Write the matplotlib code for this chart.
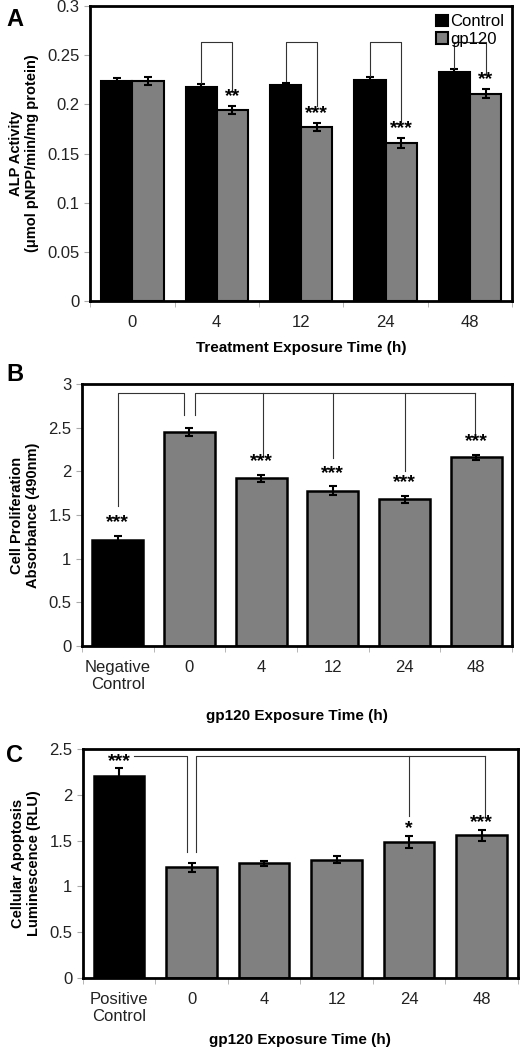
import numpy as np
import matplotlib.pyplot as plt

plt.rcParams['font.family'] = ['Liberation Sans', 'DejaVu Sans']

# Panel A data
a_times = ['0', '4', '12', '24', '48']
a_control = [0.224, 0.218, 0.220, 0.225, 0.233]
a_control_err = [0.003, 0.003, 0.002, 0.003, 0.003]
a_gp120 = [0.224, 0.194, 0.177, 0.161, 0.211]
a_gp120_err = [0.004, 0.004, 0.004, 0.005, 0.005]
a_stars = ['', '**', '***', '***', '**']

# Panel B data
b_labels = ['Negative\nControl', '0', '4', '12', '24', '48']
b_values = [1.21, 2.45, 1.92, 1.78, 1.68, 2.16]
b_err = [0.05, 0.05, 0.04, 0.05, 0.04, 0.03]
b_stars = ['***', '', '***', '***', '***', '***']

# Panel C data
c_labels = ['Positive\nControl', '0', '4', '12', '24', '48']
c_values = [2.21, 1.21, 1.25, 1.29, 1.485, 1.56]
c_err = [0.08, 0.05, 0.03, 0.04, 0.07, 0.06]
c_stars = ['***', '', '', '', '*', '***']

GRAY = '#808080'
LW = 0.8


def style_axes(ax, n):
    for s in ax.spines.values():
        s.set_linewidth(2)
        s.set_color('black')
    ax.set_xlim(-0.5, n - 0.5)
    ax.set_xticks(np.arange(n))
    ax.set_xticks(np.arange(n + 1) - 0.5, minor=True)
    ax.tick_params(axis='x', which='major', length=0, pad=10, labelsize=12, colors='#222222')
    ax.tick_params(axis='x', which='minor', length=4, color='#aaaaaa', direction='out')
    ax.tick_params(axis='y', length=4, color='#aaaaaa', labelsize=12, labelcolor='#222222')


fig = plt.figure(figsize=(5.21, 10.5), dpi=100)

# ---------- Panel A ----------
ax = fig.add_axes([0.173, 0.7133, 0.81, 0.281])
x = np.arange(len(a_times))
w = 0.37
ax.bar(x - w / 2, a_control, w, color='black', edgecolor='black', lw=1.5, label='Control')
ax.bar(x + w / 2, a_gp120, w, color=GRAY, edgecolor='black', lw=1.5, label='gp120')
ax.errorbar(x - w / 2, a_control, yerr=a_control_err, fmt='none', ecolor='black', elinewidth=1.5, capsize=3, capthick=1.5)
ax.errorbar(x + w / 2, a_gp120, yerr=a_gp120_err, fmt='none', ecolor='black', elinewidth=1.5, capsize=3, capthick=1.5)
for i, s in enumerate(a_stars):
    if not s:
        continue
    ax.text(x[i] + w / 2, a_gp120[i] + a_gp120_err[i] + 0.001, s, ha='center', va='bottom', fontsize=14, fontweight='bold')
    top = 0.263
    ax.plot([x[i] - w / 2, x[i] - w / 2, x[i] + w / 2, x[i] + w / 2],
            [a_control[i] + 0.004, top, top, a_gp120[i] + 0.021], color='#333333', lw=LW)
ax.set_ylim(0, 0.3)
ax.set_yticks([0, 0.05, 0.1, 0.15, 0.2, 0.25, 0.3])
ax.set_yticklabels(['0', '0.05', '0.1', '0.15', '0.2', '0.25', '0.3'])
ax.set_xticklabels(a_times)
style_axes(ax, len(a_times))
ax.set_ylabel('ALP Activity\n(μmol pNPP/min/mg protein)', fontweight='bold', fontsize=10.5, labelpad=6)
ax.set_xlabel('Treatment Exposure Time (h)', fontweight='bold', fontsize=11, labelpad=8)
ax.legend(loc='upper right', frameon=False, fontsize=12, handlelength=0.7, handleheight=0.7,
          handletextpad=0.1, borderaxespad=0.1, labelspacing=0.15)
fig.text(0.012, 0.992, 'A', fontsize=17, fontweight='bold', va='top')

# ---------- Panel B ----------
ax = fig.add_axes([0.157, 0.3848, 0.826, 0.2495])
x = np.arange(len(b_labels))
colors = ['black'] + [GRAY] * (len(b_labels) - 1)
ax.bar(x, b_values, 0.71, color=colors, edgecolor='black', lw=1.8)
ax.errorbar(x, b_values, yerr=b_err, fmt='none', ecolor='black', elinewidth=1.5, capsize=3, capthick=1.5)
for i, s in enumerate(b_stars):
    if s:
        ax.text(x[i], b_values[i] + b_err[i] + 0.05, s, ha='center', va='bottom', fontsize=14, fontweight='bold')
top = 2.90
ax.plot([x[0], x[0], x[1] - 0.07, x[1] - 0.07], [1.6, top, top, 2.65], color='#333333', lw=LW)
ax.plot([x[1] + 0.08, x[1] + 0.08, x[5] - 0.02], [2.65, top, top], color='#333333', lw=LW)
ax.plot([x[2] + 0.02] * 2, [top, 2.16], color='#333333', lw=LW)
ax.plot([x[3]] * 2, [top, 2.15], color='#333333', lw=LW)
ax.plot([x[4]] * 2, [top, 2.0], color='#333333', lw=LW)
ax.plot([x[5] - 0.02] * 2, [top, 2.38], color='#333333', lw=LW)
ax.set_ylim(0, 3)
ax.set_yticks([0, 0.5, 1, 1.5, 2, 2.5, 3])
ax.set_yticklabels(['0', '0.5', '1', '1.5', '2', '2.5', '3'])
ax.set_xticklabels(b_labels)
style_axes(ax, len(b_labels))
ax.tick_params(axis='x', which='major', pad=10)
ax.set_ylabel('Cell Proliferation\nAbsorbance (490nm)', fontweight='bold', fontsize=10.5, labelpad=6)
ax.set_xlabel('gp120 Exposure Time (h)', fontweight='bold', fontsize=11, labelpad=12)
fig.text(0.012, 0.654, 'B', fontsize=17, fontweight='bold', va='top')

# ---------- Panel C ----------
ax = fig.add_axes([0.159, 0.0686, 0.835, 0.2181])
x = np.arange(len(c_labels))
colors = ['black'] + [GRAY] * (len(c_labels) - 1)
ax.bar(x, c_values, 0.70, color=colors, edgecolor='black', lw=1.8)
ax.errorbar(x, c_values, yerr=c_err, fmt='none', ecolor='black', elinewidth=1.5, capsize=3, capthick=1.5)
for i, s in enumerate(c_stars):
    if s:
        ax.text(x[i], c_values[i] + c_err[i] - 0.02, s, ha='center', va='bottom', fontsize=14, fontweight='bold')
top = 2.42
ax.plot([x[0] + 0.2, x[1] - 0.06, x[1] - 0.06], [top, top, 1.38], color='#333333', lw=LW)
ax.plot([x[1] + 0.06, x[1] + 0.06, x[5] + 0.05], [1.38, top, top], color='#333333', lw=LW)
ax.plot([x[4]] * 2, [top, 1.77], color='#333333', lw=LW)
ax.plot([x[5] + 0.05] * 2, [top, 1.77], color='#333333', lw=LW)
ax.set_ylim(0, 2.5)
ax.set_yticks([0, 0.5, 1, 1.5, 2, 2.5])
ax.set_yticklabels(['0', '0.5', '1', '1.5', '2', '2.5'])
ax.set_xticklabels(c_labels)
style_axes(ax, len(c_labels))
ax.tick_params(axis='x', which='major', pad=10)
ax.set_ylabel('Cellular Apoptosis\nLuminescence (RLU)', fontweight='bold', fontsize=10.5, labelpad=6)
ax.set_xlabel('gp120 Exposure Time (h)', fontweight='bold', fontsize=11, labelpad=6)
fig.text(0.012, 0.291, 'C', fontsize=17, fontweight='bold', va='top')

fig.savefig('out.png', dpi=100)
